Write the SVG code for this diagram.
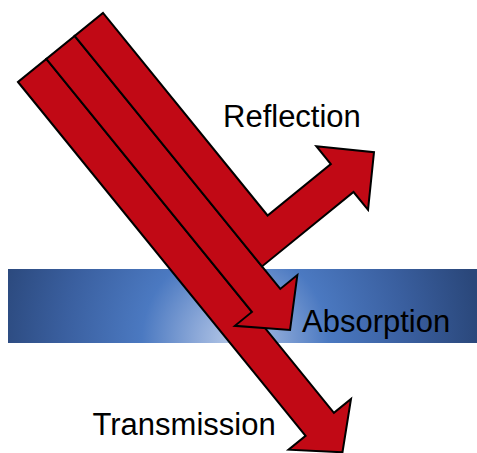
<svg xmlns="http://www.w3.org/2000/svg" width="477" height="453" viewBox="0 0 477 453">
  <defs>
    <radialGradient id="bandGrad" gradientUnits="userSpaceOnUse" cx="235" cy="340" r="245">
      <stop offset="0" stop-color="#b6c9e8"/>
      <stop offset="0.15" stop-color="#8eaad9"/>
      <stop offset="0.38" stop-color="#4b79c1"/>
      <stop offset="0.7" stop-color="#3a5f9f"/>
      <stop offset="1" stop-color="#2a477a"/>
    </radialGradient>
  </defs>
  <style>
    .beam { fill: #c10915; stroke: #000; stroke-width: 2; stroke-linejoin: miter; }
    .label { font-family: "Liberation Sans", Arial, Helvetica, sans-serif; font-size: 31px; fill: #000; }
  </style>
  <rect width="477" height="453" fill="#fff"/>
  <g id="medium">
    <rect x="8" y="269" width="469" height="74" fill="url(#bandGrad)"/>
  </g>
  <g id="beams" transform="matrix(0.6307 0.776 0.776 -0.6307 18 82)">
    <g id="transmission-beam">
      <polygon class="beam" points="0,0 456,0 456,-22 492,18.25 456,58.5 456,36.5 0,36.5"/>
    </g>
    <g id="absorption-beam">
      <polygon class="beam" points="0,36.5 326,36.5 326,14.5 364,54.75 326,95 326,73 0,73"/>
    </g>
    <g id="reflection-beam">
      <polygon class="beam" points="0,73 297,73 297,191 320,191 279,232 238,191 261,191 261,109.5 0,109.5"/>
    </g>
  </g>
  <g id="labels">
    <text class="label" x="223" y="127">Reflection</text>
    <text class="label" x="302" y="332">Absorption</text>
    <text class="label" x="92.5" y="435">Transmission</text>
  </g>
</svg>
